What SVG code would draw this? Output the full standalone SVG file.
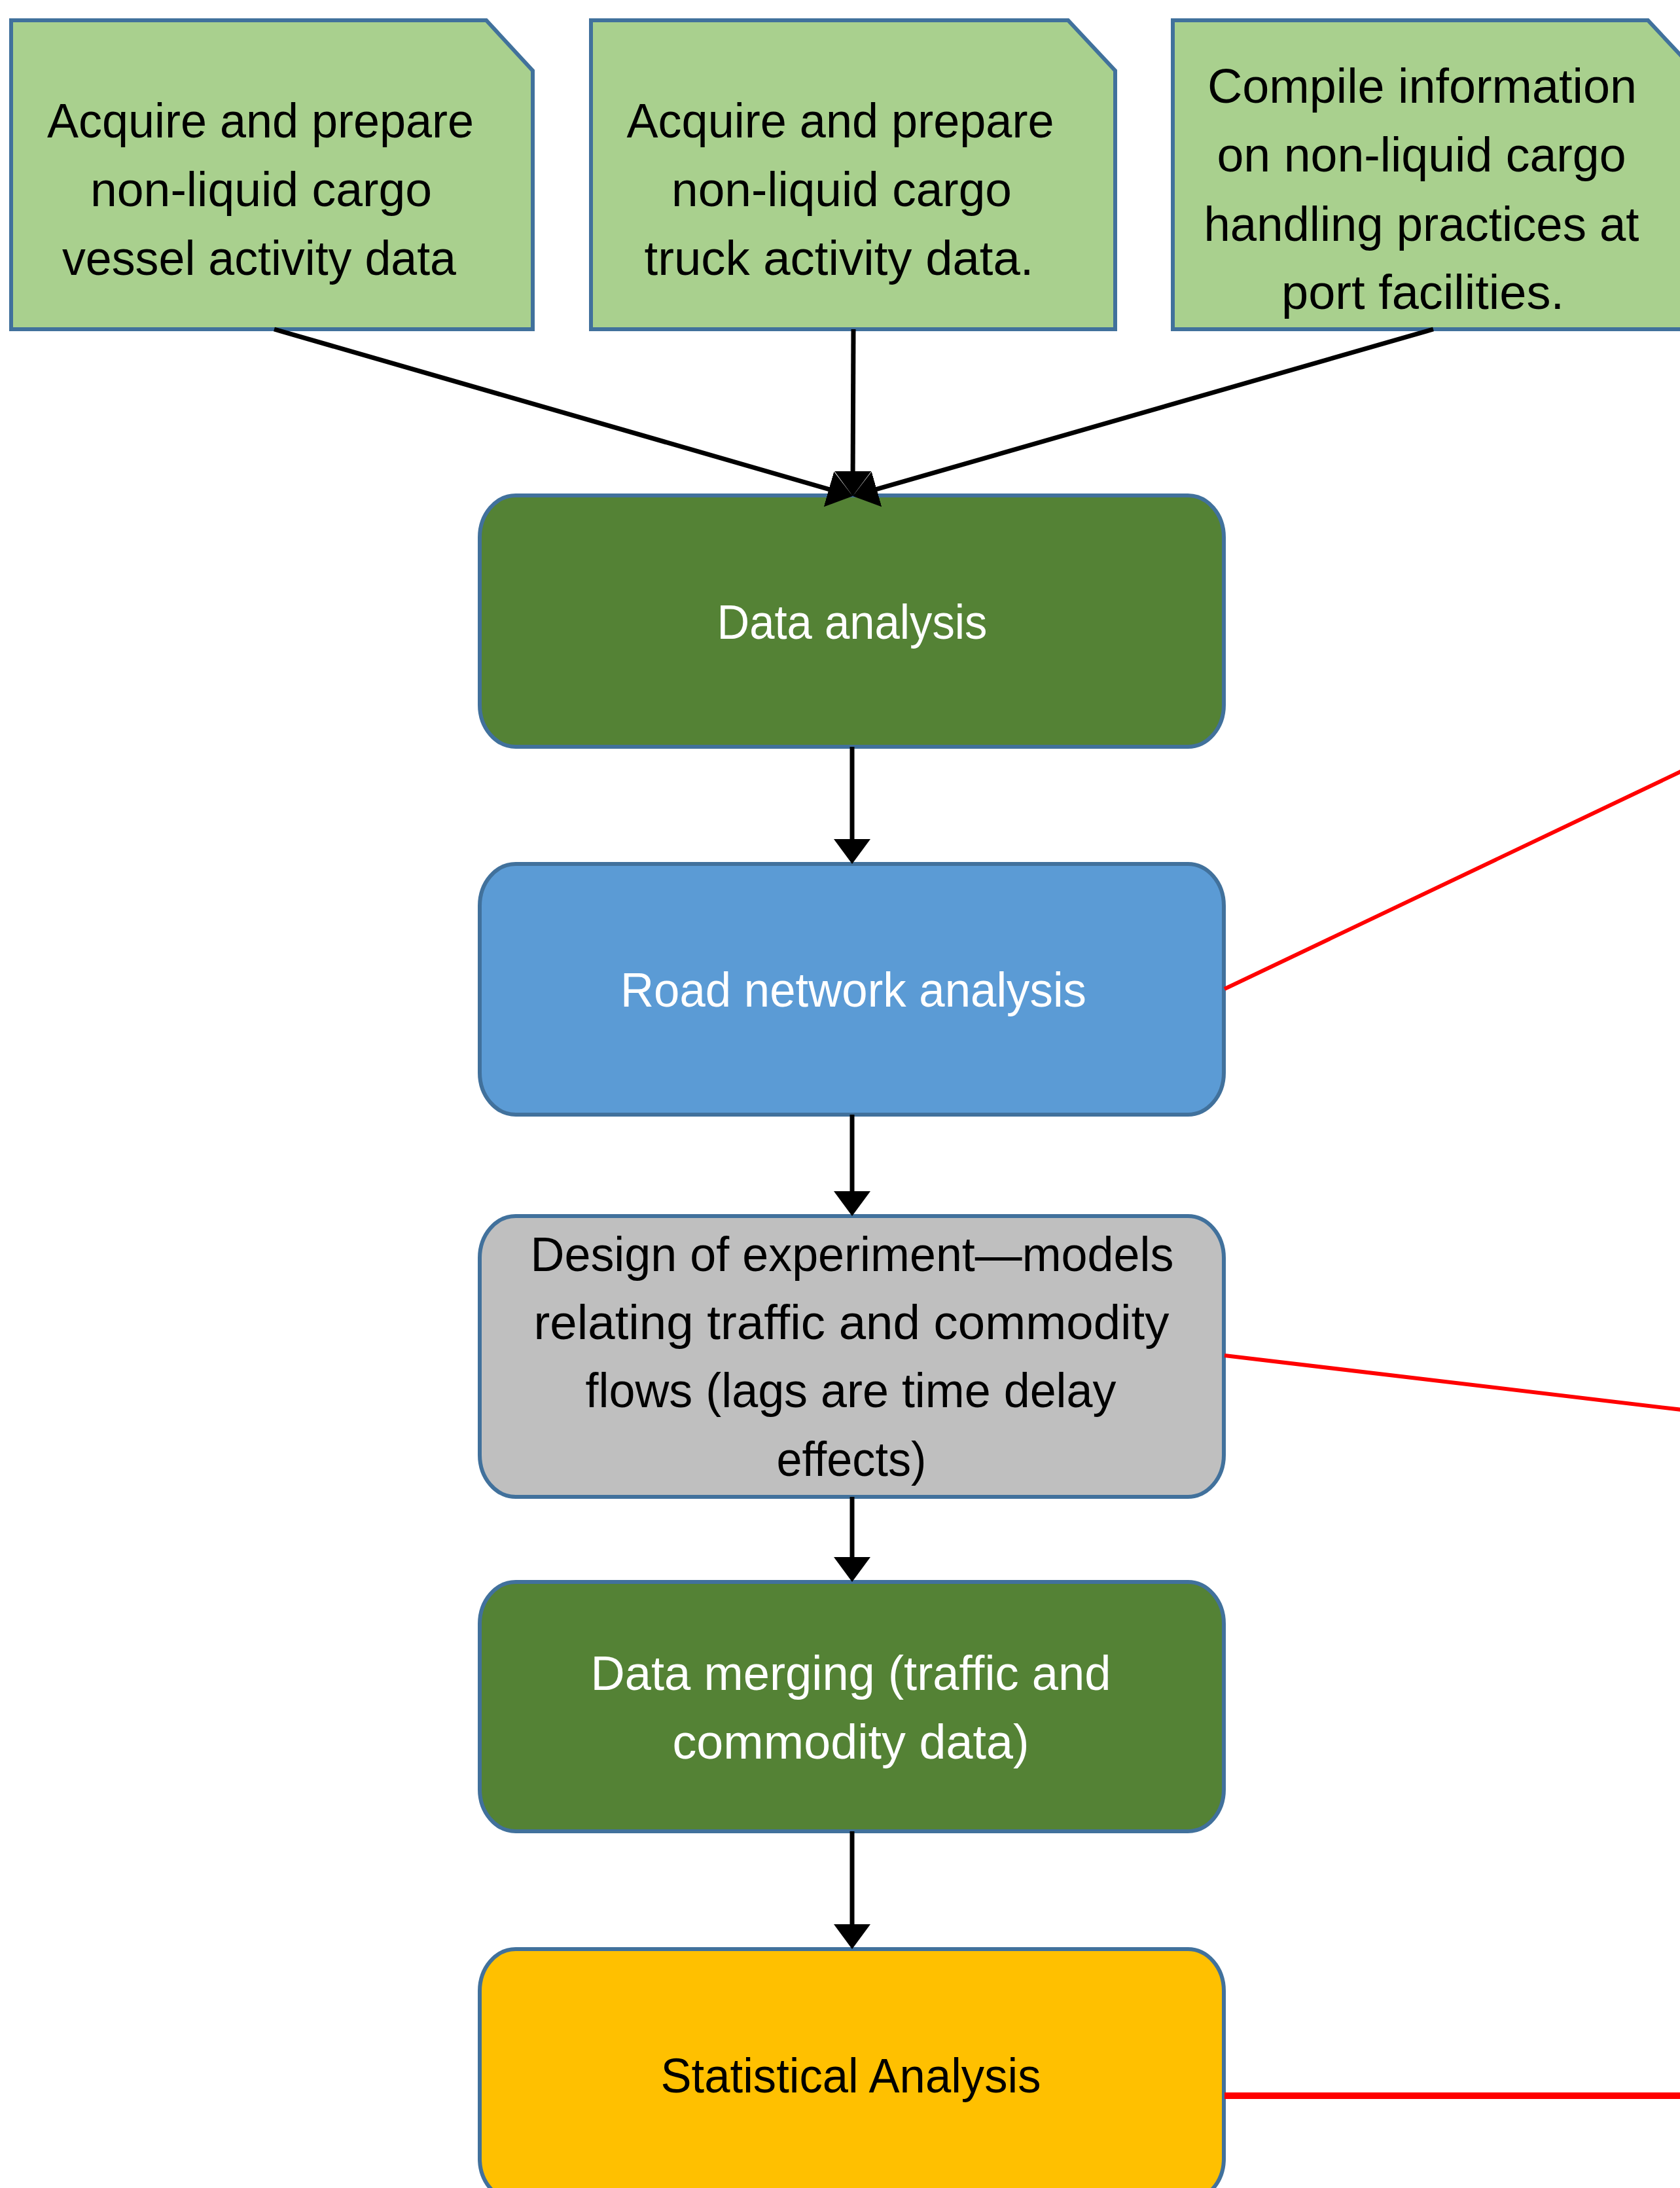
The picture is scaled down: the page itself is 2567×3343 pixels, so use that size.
<svg xmlns="http://www.w3.org/2000/svg" width="2567" height="3343" viewBox="0 0 2567 3343">
<defs>
<style>
.note{fill:#A9D08E;stroke:#41719C;stroke-width:6;stroke-linejoin:miter}
.box{stroke:#41719C;stroke-width:6}
.t{font-family:"Liberation Sans",Arial,sans-serif;font-size:74px;text-anchor:middle}
.dk{fill:#000000}
.wh{fill:#FFFFFF}
.blk{stroke:#000000;stroke-width:7;fill:none}
.red{stroke:#FF0000;stroke-width:6;fill:none}
</style>
<marker id="ah" markerUnits="userSpaceOnUse" viewBox="0 0 38 56" refX="28" refY="28" markerWidth="38" markerHeight="56" orient="auto">
<path d="M0,0 L38,28 L0,56 Z" fill="#000000"/>
</marker>
</defs>
<rect x="0" y="0" width="2567" height="3343" fill="#FFFFFF"/>

<g id="n-vessel">
<path class="note" d="M17,31 L743,31 L814,108 L814,503 L17,503 Z"/>
<text class="t dk" x="398" y="210" textLength="652" lengthAdjust="spacingAndGlyphs">Acquire and prepare</text>
<text class="t dk" x="399" y="315" textLength="522" lengthAdjust="spacingAndGlyphs">non-liquid cargo</text>
<text class="t dk" x="396" y="420" textLength="602" lengthAdjust="spacingAndGlyphs">vessel activity data</text>
</g>

<g id="n-truck">
<path class="note" d="M903,31 L1632,31 L1704,108 L1704,503 L903,503 Z"/>
<text class="t dk" x="1284" y="210" textLength="653" lengthAdjust="spacingAndGlyphs">Acquire and prepare</text>
<text class="t dk" x="1286" y="315" textLength="520" lengthAdjust="spacingAndGlyphs">non-liquid cargo</text>
<text class="t dk" x="1282" y="420" textLength="595" lengthAdjust="spacingAndGlyphs">truck activity data.</text>
</g>

<g id="n-compile">
<path class="note" d="M1792,31 L2518,31 L2590,108 L2590,503 L1792,503 Z"/>
<text class="t dk" x="2173" y="157" textLength="656" lengthAdjust="spacingAndGlyphs">Compile information</text>
<text class="t dk" x="2172" y="262" textLength="625" lengthAdjust="spacingAndGlyphs">on non-liquid cargo</text>
<text class="t dk" x="2172" y="368" textLength="665" lengthAdjust="spacingAndGlyphs">handling practices at</text>
<text class="t dk" x="2174" y="472" textLength="432" lengthAdjust="spacingAndGlyphs">port facilities.</text>
</g>

<g id="n-data-analysis">
<rect class="box" x="733" y="757" width="1137" height="384" rx="55" ry="64" fill="#548235"/>
<text class="t wh" x="1302" y="976" textLength="413" lengthAdjust="spacingAndGlyphs">Data analysis</text>
</g>

<g id="n-road">
<rect class="box" x="733" y="1320" width="1137" height="383" rx="55" ry="64" fill="#5B9BD5"/>
<text class="t wh" x="1304" y="1538" textLength="712" lengthAdjust="spacingAndGlyphs">Road network analysis</text>
</g>

<g id="n-design">
<rect class="box" x="733" y="1858" width="1137" height="429" rx="55" ry="64" fill="#BFBFBF"/>
<text class="t dk" x="1302" y="1942" textLength="983" lengthAdjust="spacingAndGlyphs">Design of experiment—models</text>
<text class="t dk" x="1301" y="2046" textLength="971" lengthAdjust="spacingAndGlyphs">relating traffic and commodity</text>
<text class="t dk" x="1300" y="2150" textLength="811" lengthAdjust="spacingAndGlyphs">flows (lags are time delay</text>
<text class="t dk" x="1301" y="2255" textLength="229" lengthAdjust="spacingAndGlyphs">effects)</text>
</g>

<g id="n-merging">
<rect class="box" x="733" y="2417" width="1137" height="381" rx="55" ry="64" fill="#548235"/>
<text class="t wh" x="1300" y="2582" textLength="795" lengthAdjust="spacingAndGlyphs">Data merging (traffic and</text>
<text class="t wh" x="1300" y="2687" textLength="545" lengthAdjust="spacingAndGlyphs">commodity data)</text>
</g>

<g id="n-statistical">
<rect class="box" x="733" y="2978" width="1137" height="384" rx="55" ry="64" fill="#FFC000"/>
<text class="t dk" x="1300" y="3197" textLength="581" lengthAdjust="spacingAndGlyphs">Statistical Analysis</text>
</g>

<g id="connectors">
<line class="blk" x1="419" y1="503" x2="1293.4" y2="755.2" marker-end="url(#ah)"/>
<line class="blk" x1="1304" y1="503" x2="1303" y2="748" marker-end="url(#ah)"/>
<line class="blk" x1="2190" y1="503" x2="1312.6" y2="755.2" marker-end="url(#ah)"/>
<line class="blk" x1="1302" y1="1141" x2="1302" y2="1310" marker-end="url(#ah)"/>
<line class="blk" x1="1302" y1="1703" x2="1302" y2="1848" marker-end="url(#ah)"/>
<line class="blk" x1="1302" y1="2287" x2="1302" y2="2407" marker-end="url(#ah)"/>
<line class="blk" x1="1302" y1="2798" x2="1302" y2="2968" marker-end="url(#ah)"/>
<line class="red" x1="1871" y1="1511" x2="2570" y2="1178"/>
<line class="red" x1="1871" y1="2071" x2="2570" y2="2154"/>
<line class="red" x1="1871" y1="3202" x2="2570" y2="3202" style="stroke-width:10"/>
</g>
</svg>
